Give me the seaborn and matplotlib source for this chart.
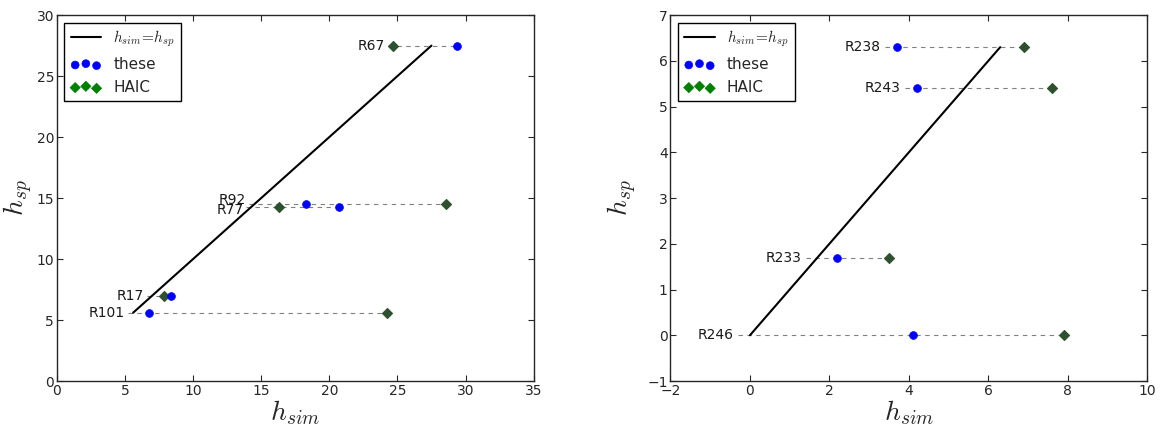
import matplotlib
matplotlib.use('Agg')
import matplotlib.pyplot as plt
import seaborn as sns
import pandas as pd

# left panel
left_names = ['R67', 'R92', 'R77', 'R17', 'R101']
left_sp = [27.5, 14.5, 14.3, 7.0, 5.6]
left_these = [29.4, 18.3, 20.7, 8.4, 6.8]
left_haic = [24.7, 28.6, 16.3, 7.9, 24.2]

# right panel
right_names = ['R238', 'R243', 'R233', 'R246']
right_sp = [6.3, 5.4, 1.7, 0.0]
right_these = [3.7, 4.2, 2.2, 4.1]
right_haic = [6.9, 7.6, 3.5, 7.9]

sns.set_style('ticks', {'xtick.direction': 'in', 'ytick.direction': 'in'})
plt.rcParams['mathtext.fontset'] = 'cm'
plt.rcParams['font.family'] = ['DejaVu Sans']


def panel(ax, names, sp, these, haic, off, lab_off, nudge):
    df = pd.DataFrame({'name': names, 'sp': sp, 'these': these, 'haic': haic})
    lo, hi = min(sp), max(sp)
    diag = pd.DataFrame({'x': [lo, hi], 'y': [lo, hi]})
    # dashed guides + labels
    for _, r in df.iterrows():
        start = min(r.sp, r.these, r.haic) - off
        end = max(r.sp, r.these, r.haic)
        ax.plot([start, end], [r.sp, r.sp], ls=(0, (4, 4)), color='0.5', lw=0.8, zorder=1)
    for _, r in df.iterrows():
        start = min(r.sp, r.these, r.haic) - off
        dy = nudge.get(r['name'], 0)
        ax.text(start - lab_off, r.sp + dy, r['name'], ha='right', va='center',
                fontsize=10, color='0.1')
    sns.lineplot(data=diag, x='x', y='y', ax=ax, color='k', lw=1.5,
                 label=r'$h_{sim}\!=\!h_{sp}$', zorder=2)
    sns.scatterplot(data=df, x='these', y='sp', ax=ax, color='b', marker='o', s=32,
                    edgecolor='b', label='these', zorder=4)
    sns.scatterplot(data=df, x='haic', y='sp', ax=ax, color='g', marker='D', s=28,
                    edgecolor='g', label='HAIC', zorder=3)
    # darker overlay seen on the plotted diamonds
    sns.scatterplot(data=df, x='haic', y='sp', ax=ax, color='0.25', marker='D', s=28,
                    edgecolor='0.25', alpha=0.75, legend=False, zorder=3)
    ax.legend(loc='upper left', scatterpoints=3, fontsize=11, frameon=True,
              fancybox=False, edgecolor='k', framealpha=1, handlelength=2,
              borderaxespad=0.5)
    ax.legend_.get_frame().set_linewidth(1.0)
    ax.set_xlabel(r'$h_{sim}$', fontsize=20, labelpad=0)
    ax.set_ylabel(r'$h_{sp}$', fontsize=20)
    ax.tick_params(top=True, right=True, labelsize=10, length=4, pad=2,
                   labelcolor='0.15')
    for s in ax.spines.values():
        s.set_visible(True)
        s.set_linewidth(1.0)


fig, (ax1, ax2) = plt.subplots(1, 2, figsize=(11.6, 4.32), dpi=100)
fig.subplots_adjust(left=0.049, right=0.989, top=0.965, bottom=0.118, wspace=0.287)

panel(ax1, left_names, left_sp, left_these, left_haic, 0.4, 0.2,
      {'R92': 0.35, 'R77': -0.3})
ax1.set_xlim(0, 35)
ax1.set_ylim(0, 30)
ax1.set_xticks(range(0, 36, 5))
ax1.set_yticks(range(0, 31, 5))
ax1.yaxis.set_label_coords(-0.045, 0.5)

panel(ax2, right_names, right_sp, right_these, right_haic, 0.3, 0.1, {})
ax2.set_xlim(-2, 10)
ax2.set_ylim(-1, 7)
ax2.set_xticks(range(-2, 11, 2))
ax2.set_yticks(range(-1, 8))
ax2.yaxis.set_label_coords(-0.067, 0.5)

fig.savefig('out.png', dpi=100, facecolor='white')
